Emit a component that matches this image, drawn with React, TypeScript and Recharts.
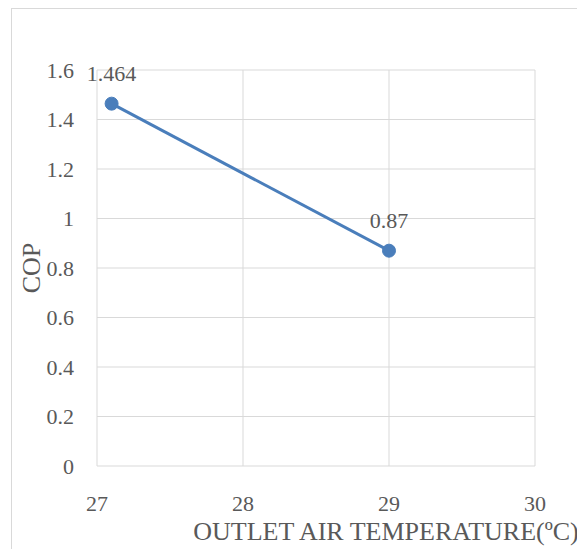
import React from "react";
import { LineChart, Line, XAxis, YAxis, CartesianGrid, LabelList, Label } from "recharts";

const temperatures = [27.1, 29];
const copValues = [1.464, 0.87];
const xTicks = [27, 28, 29, 30];
const yTicks = [0, 0.2, 0.4, 0.6, 0.8, 1, 1.2, 1.4, 1.6];
const xTitle = "OUTLET AIR TEMPERATURE(ºC)";
const yTitle = "COP";

const data = temperatures.map((t, i) => ({ t, cop: copValues[i] }));

const FONT = "Liberation Serif";
const TEXT = "#595959";
const GRID = "#d9d9d9";
const BLUE = "#4a7ebb";
const TICK_SIZE = 22;
const TITLE_SIZE = 26;

const XTick = (props: any) => {
  const { x, y, payload } = props;
  return (
    <text x={x} y={y} dy="0.71em" textAnchor="middle" fill={TEXT} fontSize={TICK_SIZE} style={{ fontFamily: FONT }}>
      {String(payload.value)}
    </text>
  );
};

const YTick = (props: any) => {
  const { x, y, payload } = props;
  return (
    <text x={x} y={y} dy="0.35em" textAnchor="end" fill={TEXT} fontSize={TICK_SIZE} style={{ fontFamily: FONT }}>
      {String(payload.value)}
    </text>
  );
};

const DataLabel = (props: any) => {
  const { x, y, value } = props;
  return (
    <text x={x} y={y - 23} textAnchor="middle" fill={TEXT} fontSize={TICK_SIZE} style={{ fontFamily: FONT }}>
      {String(value)}
    </text>
  );
};

export default function App() {
  return (
    <div
      style={{
        marginLeft: 3,
        width: 573,
        height: 540,
        borderLeft: `1px solid ${GRID}`,
        borderTop: `1px solid ${GRID}`,
        fontFamily: FONT,
      }}
    >
      <LineChart
        width={573}
        height={540}
        data={data}
        margin={{ top: 61, right: 50, left: 0, bottom: 0 }}
        style={{ fontFamily: FONT }}
      >
        <CartesianGrid stroke={GRID} strokeWidth={1} />
        <XAxis
          dataKey="t"
          type="number"
          domain={[27, 30]}
          ticks={xTicks}
          axisLine={false}
          tickLine={false}
          tickSize={0}
          tickMargin={29}
          height={83}
          tick={<XTick />}
        >
          <Label
            content={({ viewBox }: any) => (
              <text
                x={viewBox.x + viewBox.width / 2 + 70}
                y={531}
                textAnchor="middle"
                fill={TEXT}
                fontSize={TITLE_SIZE}
                style={{ fontFamily: FONT }}
              >
                {xTitle}
              </text>
            )}
          />
        </XAxis>
        <YAxis
          type="number"
          domain={[0, 1.6]}
          ticks={yTicks}
          axisLine={false}
          tickLine={false}
          tickSize={0}
          tickMargin={23}
          width={85}
          tick={<YTick />}
        >
          <Label
            content={({ viewBox }: any) => {
              const cx = 28;
              const cy = viewBox.y + viewBox.height / 2;
              return (
                <text
                  x={cx}
                  y={cy}
                  textAnchor="middle"
                  fill={TEXT}
                  fontSize={TITLE_SIZE}
                  style={{ fontFamily: FONT }}
                  transform={`rotate(-90, ${cx}, ${cy})`}
                >
                  {yTitle}
                </text>
              );
            }}
          />
        </YAxis>
        <Line
          type="linear"
          dataKey="cop"
          stroke={BLUE}
          strokeWidth={3}
          dot={{ r: 6.5, fill: BLUE, stroke: BLUE, strokeWidth: 1 }}
          isAnimationActive={false}
        >
          <LabelList dataKey="cop" content={<DataLabel />} />
        </Line>
      </LineChart>
    </div>
  );
}
